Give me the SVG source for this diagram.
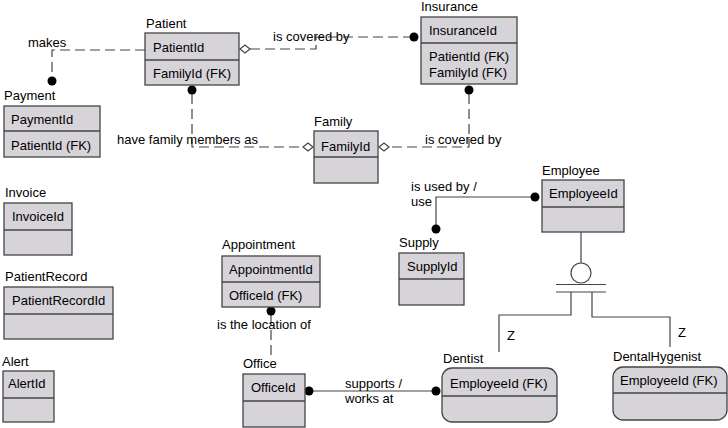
<svg xmlns="http://www.w3.org/2000/svg" width="728" height="428" viewBox="0 0 728 428">
<style>
text{font-family:"Liberation Sans",Arial,sans-serif;font-size:13px;fill:#000}
.box{fill:#d6d3d9;stroke:#444;stroke-width:1.3}
.div{stroke:#444;stroke-width:1.3}
.ln{fill:none;stroke:#444;stroke-width:1.2}
.dash{fill:none;stroke:#444;stroke-width:1.2;stroke-dasharray:10,5}
.dot{fill:#000}
.dia{fill:#fff;stroke:#444;stroke-width:1.2}
</style>
<rect width="728" height="428" fill="#fff"/>
<g id="connectors">
  <path class="dash" d="M145,50 H52 V77"/>
  <circle class="dot" cx="52" cy="81" r="4.5"/>
  <text x="28" y="47">makes</text>
  <path class="dash" d="M250,49 H316 V37 H410"/>
  <path class="dia" d="M240,49 l5,-4 l5,4 l-5,4 z"/>
  <circle class="dot" cx="414" cy="37" r="4.5"/>
  <text x="273" y="41">is covered by</text>
  <path class="dash" d="M192,94 V147 H303"/>
  <circle class="dot" cx="192" cy="90" r="4.5"/>
  <path class="dia" d="M303,147 l5,-4 l5,4 l-5,4 z"/>
  <text x="117" y="144">have family members as</text>
  <path class="dash" d="M469,94 V147 H389"/>
  <circle class="dot" cx="469" cy="90" r="4.5"/>
  <path class="dia" d="M379,147 l5,-4 l5,4 l-5,4 z"/>
  <text x="425" y="144">is covered by</text>
  <path class="ln" d="M535,197 H436 V229"/>
  <circle class="dot" cx="535" cy="197" r="4.5"/>
  <circle class="dot" cx="436" cy="229" r="4.5"/>
  <text x="411" y="191">is used by /</text>
  <text x="411" y="206">use</text>
  <path class="ln" d="M581,232 V263"/>
  <circle cx="581" cy="273" r="10" fill="#fff" stroke="#444" stroke-width="1.2"/>
  <path class="ln" d="M556,284.5 H606 M556,292 H606"/>
  <path class="ln" d="M571,292 V315 H499 V352"/>
  <path class="ln" d="M592,292 V317 H670 V347"/>
  <text x="507" y="340">Z</text>
  <text x="678" y="337">Z</text>
  <path class="dash" d="M271,315 V357"/>
  <circle class="dot" cx="271" cy="311" r="4.5"/>
  <text x="217" y="329">is the location of</text>
  <path class="ln" d="M309,391 H436"/>
  <circle class="dot" cx="309" cy="391" r="4.5"/>
  <circle class="dot" cx="436" cy="391" r="4.5"/>
  <text x="345" y="388">supports /</text>
  <text x="345" y="403">works at</text>
</g>
<g id="patient">
  <text x="146" y="28">Patient</text>
  <rect class="box" x="145" y="33" width="94" height="52"/>
  <line class="div" x1="145" y1="60" x2="239" y2="60"/>
  <text x="153" y="52">PatientId</text>
  <text x="153" y="78">FamilyId (FK)</text>
</g>
<g id="payment">
  <text x="4" y="100">Payment</text>
  <rect class="box" x="4" y="106" width="96" height="51"/>
  <line class="div" x1="4" y1="131" x2="100" y2="131"/>
  <text x="11" y="124">PaymentId</text>
  <text x="11" y="150">PatientId (FK)</text>
</g>
<g id="insurance">
  <text x="421" y="11">Insurance</text>
  <rect class="box" x="421" y="17" width="96" height="67"/>
  <line class="div" x1="421" y1="43" x2="517" y2="43"/>
  <text x="429" y="35">InsuranceId</text>
  <text x="429" y="61">PatientId (FK)</text>
  <text x="429" y="77">FamilyId (FK)</text>
</g>
<g id="family">
  <text x="314" y="126">Family</text>
  <rect class="box" x="314" y="131" width="64" height="52"/>
  <line class="div" x1="314" y1="157" x2="378" y2="157"/>
  <text x="321" y="151">FamilyId</text>
</g>
<g id="employee">
  <text x="542" y="175">Employee</text>
  <rect class="box" x="542" y="180" width="82" height="52"/>
  <line class="div" x1="542" y1="207" x2="624" y2="207"/>
  <text x="549" y="198">EmployeeId</text>
</g>
<g id="supply">
  <text x="399" y="247">Supply</text>
  <rect class="box" x="399" y="253" width="65" height="52"/>
  <line class="div" x1="399" y1="279" x2="464" y2="279"/>
  <text x="407" y="271">SupplyId</text>
</g>
<g id="appointment">
  <text x="222" y="249">Appointment</text>
  <rect class="box" x="222" y="256" width="98" height="51"/>
  <line class="div" x1="222" y1="282" x2="320" y2="282"/>
  <text x="229" y="274">AppointmentId</text>
  <text x="229" y="300">OfficeId (FK)</text>
</g>
<g id="office">
  <text x="243" y="368">Office</text>
  <rect class="box" x="243" y="374" width="62" height="53"/>
  <line class="div" x1="243" y1="401" x2="305" y2="401"/>
  <text x="251" y="392">OfficeId</text>
</g>
<g id="dentist">
  <text x="443" y="363">Dentist</text>
  <rect class="box" x="442" y="368" width="115" height="54" rx="10"/>
  <line class="div" x1="442" y1="396" x2="557" y2="396"/>
  <text x="450" y="388">EmployeeId (FK)</text>
</g>
<g id="dentalhygenist">
  <text x="613" y="361">DentalHygenist</text>
  <rect class="box" x="613" y="367" width="114" height="53" rx="10"/>
  <line class="div" x1="613" y1="393" x2="727" y2="393"/>
  <text x="620" y="385">EmployeeId (FK)</text>
</g>
<g id="invoice">
  <text x="5" y="197">Invoice</text>
  <rect class="box" x="4" y="203" width="68" height="52"/>
  <line class="div" x1="4" y1="230" x2="72" y2="230"/>
  <text x="12" y="221">InvoiceId</text>
</g>
<g id="patientrecord">
  <text x="5" y="281">PatientRecord</text>
  <rect class="box" x="4" y="287" width="109" height="52"/>
  <line class="div" x1="4" y1="314" x2="113" y2="314"/>
  <text x="12" y="305">PatientRecordId</text>
</g>
<g id="alert">
  <text x="2" y="366">Alert</text>
  <rect class="box" x="3" y="371" width="51" height="51"/>
  <line class="div" x1="3" y1="398" x2="54" y2="398"/>
  <text x="8" y="388">AlertId</text>
</g>
</svg>
